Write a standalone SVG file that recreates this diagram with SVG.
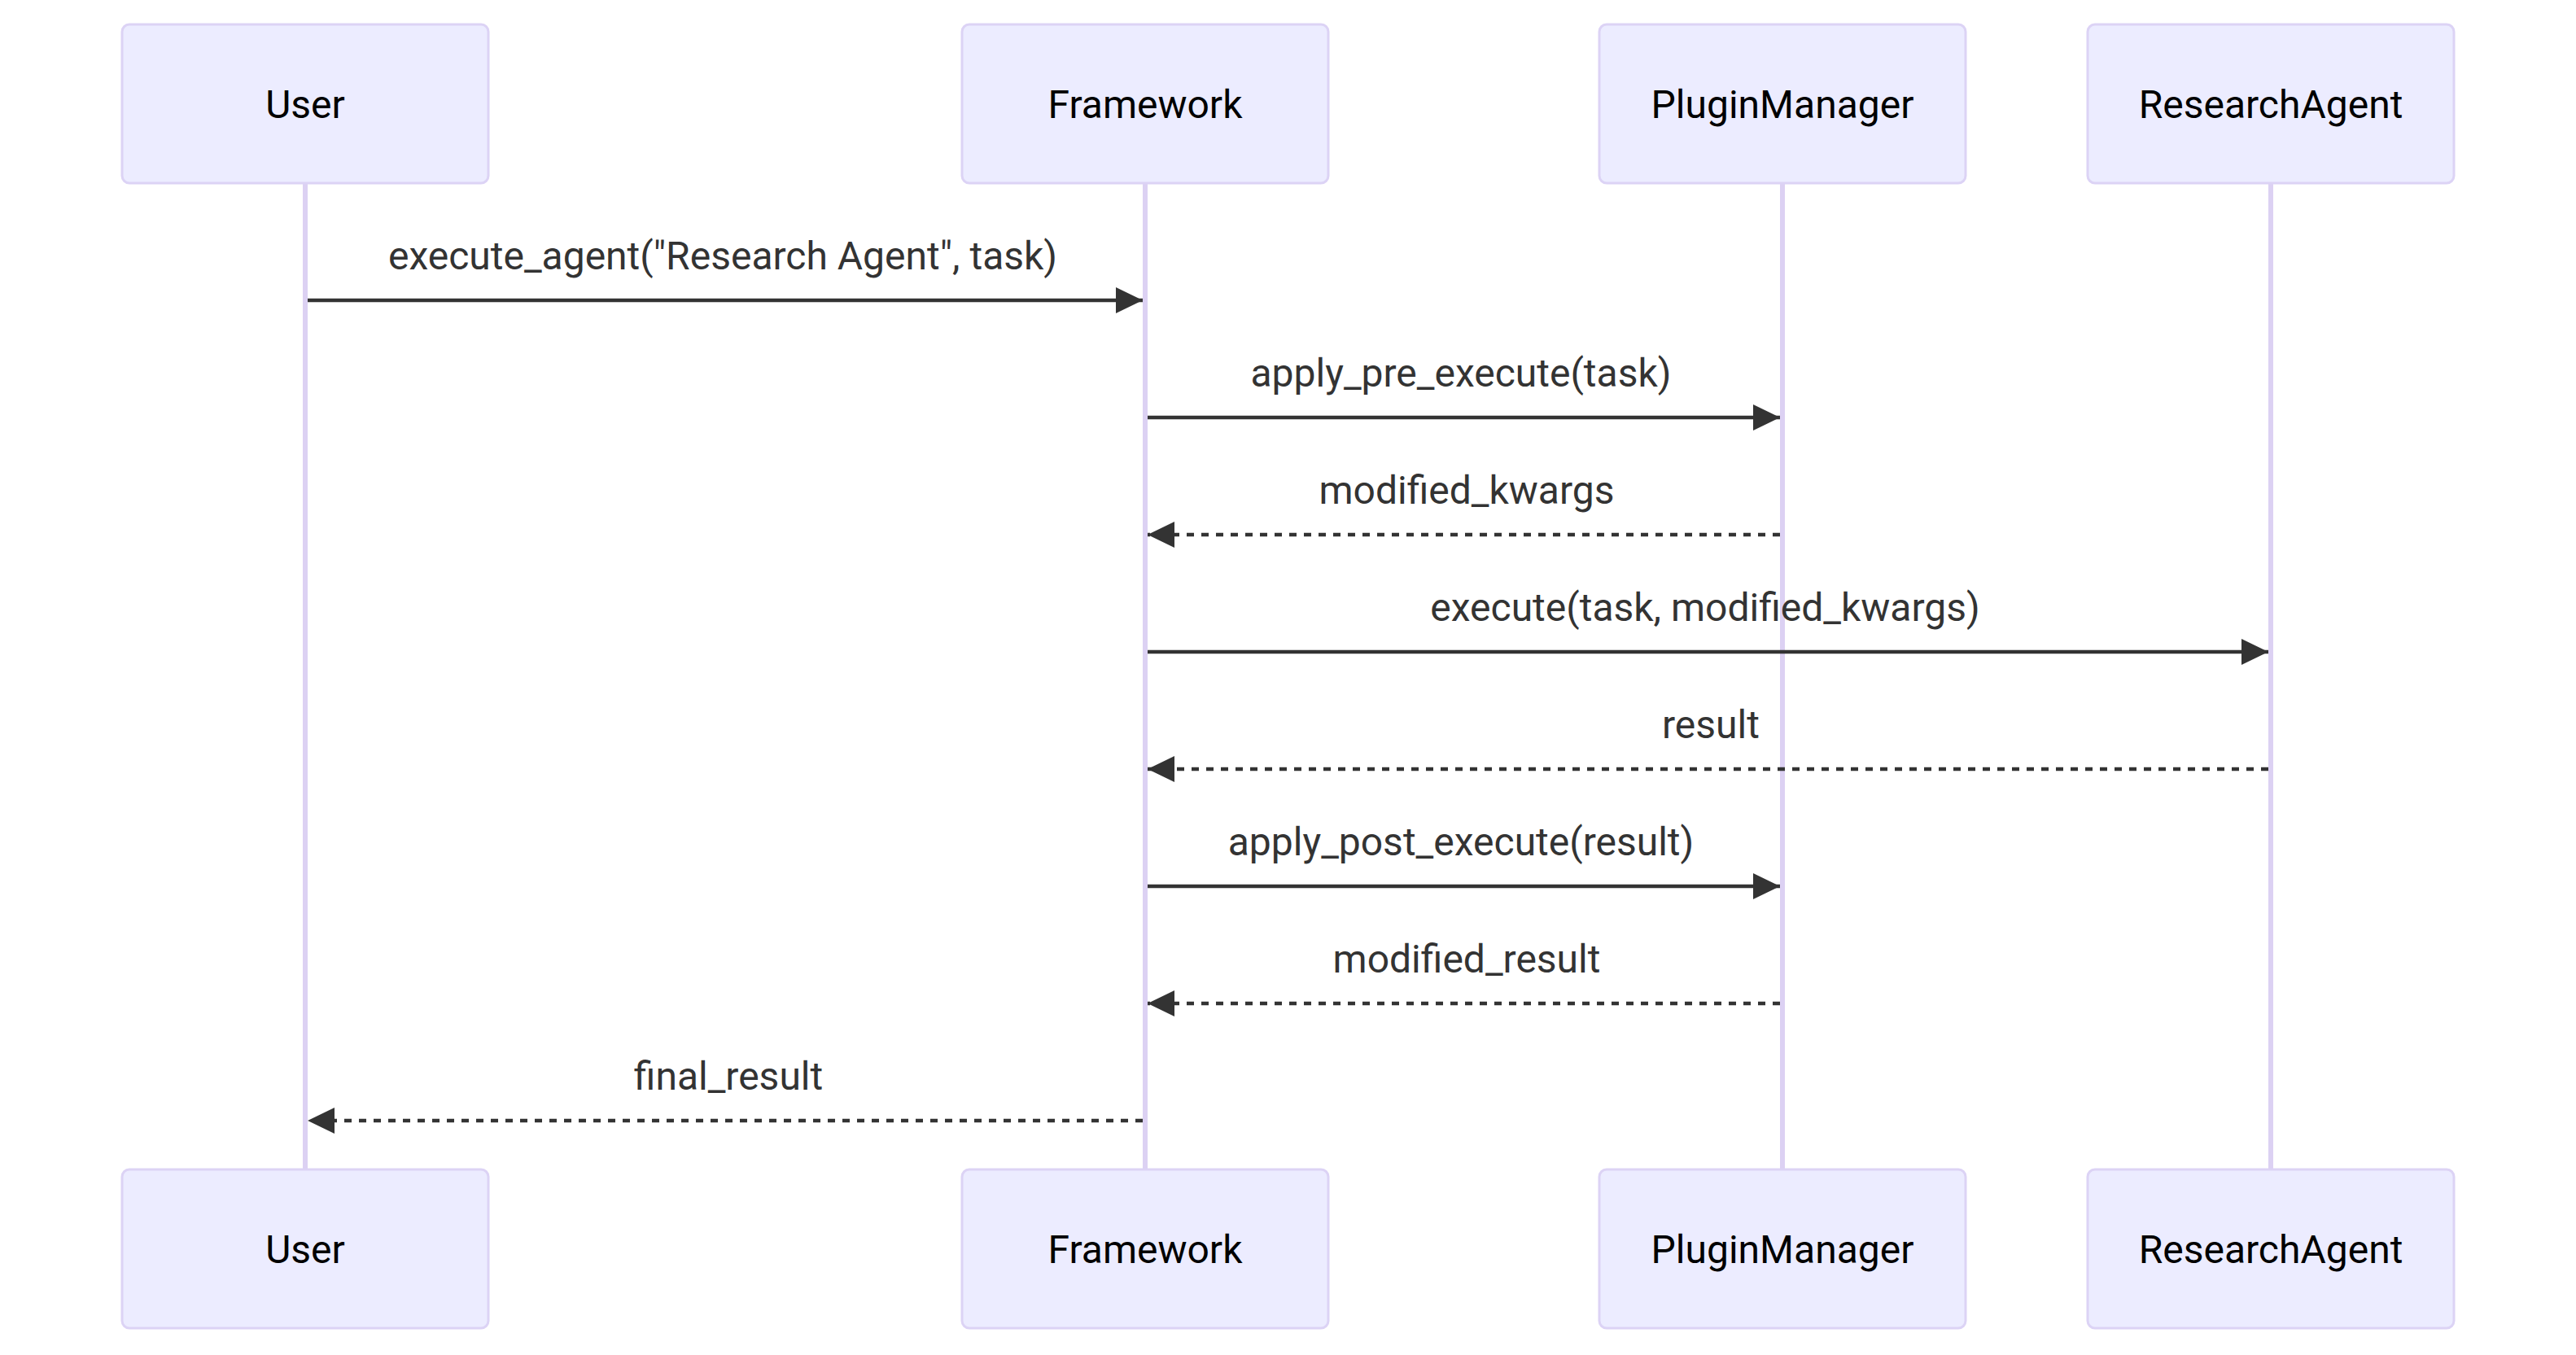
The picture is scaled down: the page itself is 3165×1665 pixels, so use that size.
<svg xmlns="http://www.w3.org/2000/svg" width="3165" height="1665" viewBox="0 0 3165 1665">
<style>
.actor{fill:#ECECFF;stroke:#DCD3F5;stroke-width:3}
.alabel{font-family:Roboto,"Liberation Sans",Arial,sans-serif;font-size:48px;fill:#000;text-anchor:middle;dominant-baseline:central}
.life{stroke:#DCD1F3;stroke-width:6}
.msg{stroke:#333;stroke-width:4.5;fill:none}
.dash{stroke-dasharray:9 9}
.mlabel{font-family:Roboto,"Liberation Sans",Arial,sans-serif;font-size:48px;fill:#333;text-anchor:middle}
</style>
<defs>
<marker id="ah" markerUnits="userSpaceOnUse" markerWidth="34" markerHeight="32" refX="33" refY="16" orient="auto">
<path d="M0,0 L33,16 L0,32 z" fill="#333"/>
</marker>
</defs>
<g id="lifelines">
<line class="life" x1="375" y1="225" x2="375" y2="1437"/>
<line class="life" x1="1407" y1="225" x2="1407" y2="1437"/>
<line class="life" x1="2190" y1="225" x2="2190" y2="1437"/>
<line class="life" x1="2790" y1="225" x2="2790" y2="1437"/>
</g>
<g id="actor-user-top"><rect class="actor" x="150" y="30" width="450" height="195" rx="9"/><text class="alabel" x="375" y="128">User</text></g>
<g id="actor-framework-top"><rect class="actor" x="1182" y="30" width="450" height="195" rx="9"/><text class="alabel" x="1407" y="128">Framework</text></g>
<g id="actor-pluginmanager-top"><rect class="actor" x="1965" y="30" width="450" height="195" rx="9"/><text class="alabel" x="2190" y="128">PluginManager</text></g>
<g id="actor-researchagent-top"><rect class="actor" x="2565" y="30" width="450" height="195" rx="9"/><text class="alabel" x="2790" y="128">ResearchAgent</text></g>
<g id="actor-user-bottom"><rect class="actor" x="150" y="1437" width="450" height="195" rx="9"/><text class="alabel" x="375" y="1535">User</text></g>
<g id="actor-framework-bottom"><rect class="actor" x="1182" y="1437" width="450" height="195" rx="9"/><text class="alabel" x="1407" y="1535">Framework</text></g>
<g id="actor-pluginmanager-bottom"><rect class="actor" x="1965" y="1437" width="450" height="195" rx="9"/><text class="alabel" x="2190" y="1535">PluginManager</text></g>
<g id="actor-researchagent-bottom"><rect class="actor" x="2565" y="1437" width="450" height="195" rx="9"/><text class="alabel" x="2790" y="1535">ResearchAgent</text></g>
<g id="connectors">
<line class="msg" x1="378" y1="369" x2="1404" y2="369" marker-end="url(#ah)"/>
<text class="mlabel" x="888" y="331">execute_agent("Research Agent", task)</text>
<line class="msg" x1="1410" y1="513" x2="2187" y2="513" marker-end="url(#ah)"/>
<text class="mlabel" x="1795" y="475">apply_pre_execute(task)</text>
<line class="msg dash" x1="2187" y1="657" x2="1410" y2="657" marker-end="url(#ah)"/>
<text class="mlabel" x="1802" y="619">modified_kwargs</text>
<line class="msg" x1="1410" y1="801" x2="2787" y2="801" marker-end="url(#ah)"/>
<text class="mlabel" x="2095" y="763">execute(task, modified_kwargs)</text>
<line class="msg dash" x1="2787" y1="945" x2="1410" y2="945" marker-end="url(#ah)"/>
<text class="mlabel" x="2102" y="907">result</text>
<line class="msg" x1="1410" y1="1089" x2="2187" y2="1089" marker-end="url(#ah)"/>
<text class="mlabel" x="1795" y="1051">apply_post_execute(result)</text>
<line class="msg dash" x1="2187" y1="1233" x2="1410" y2="1233" marker-end="url(#ah)"/>
<text class="mlabel" x="1802" y="1195">modified_result</text>
<line class="msg dash" x1="1404" y1="1377" x2="378" y2="1377" marker-end="url(#ah)"/>
<text class="mlabel" x="895" y="1339">final_result</text>
</g>
</svg>
